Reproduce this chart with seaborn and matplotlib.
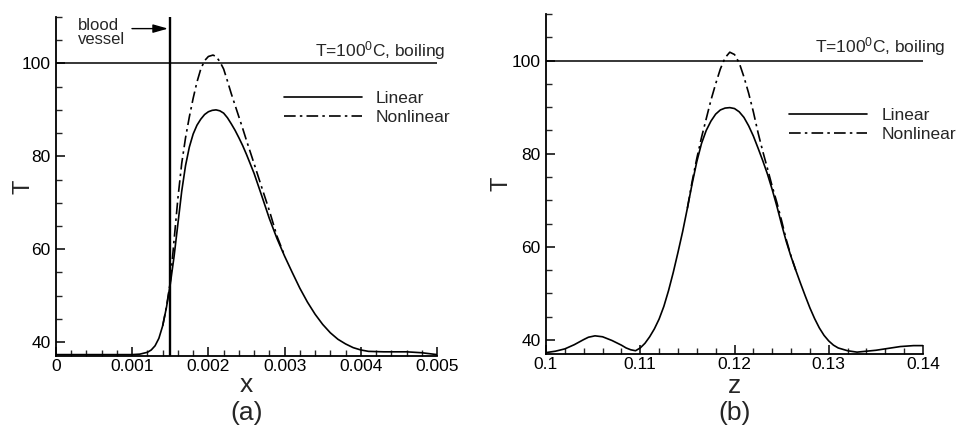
import numpy as np
import pandas as pd
import matplotlib
matplotlib.use("Agg")
import matplotlib.pyplot as plt
from matplotlib.ticker import MultipleLocator
import seaborn as sns

# (a) temperature along x
xa_lin = [0, 0.0005, 0.001, 0.0011, 0.0012, 0.00125, 0.0013, 0.00135, 0.0014, 0.00145,
          0.0015, 0.00155, 0.0016, 0.00165, 0.0017, 0.00175, 0.0018, 0.00185, 0.0019, 0.00195,
          0.002, 0.00205, 0.0021, 0.00215, 0.0022, 0.00225, 0.0023, 0.00235, 0.0024, 0.00245,
          0.0025, 0.0026, 0.0027, 0.0028, 0.0029, 0.003, 0.0031, 0.0032, 0.0033, 0.0034,
          0.0035, 0.0036, 0.0037, 0.0038, 0.0039, 0.004, 0.0041, 0.0043, 0.0046, 0.0048, 0.005]
Ta_lin = [37.3, 37.3, 37.3, 37.4, 37.8, 38.3, 39.2, 40.8, 43.5, 47.5,
          52.5, 58.5, 65.5, 72.5, 78.0, 82.0, 84.8, 86.7, 88.0, 89.0,
          89.6, 89.9, 90.0, 89.8, 89.3, 88.3, 87.0, 85.6, 84.0, 82.3,
          80.4, 76.3, 71.5, 66.6, 62.3, 58.5, 55.0, 51.6, 48.6, 46.0,
          43.8, 42.0, 40.6, 39.6, 38.8, 38.3, 38.0, 37.9, 37.9, 37.7, 37.3]

xa_non = [0.0014, 0.00145, 0.0015, 0.00155, 0.0016, 0.00165, 0.0017, 0.00175, 0.0018, 0.00185,
          0.0019, 0.00195, 0.002, 0.00206, 0.0021, 0.00215, 0.0022, 0.00225, 0.0023, 0.00235,
          0.0024, 0.00245, 0.0025, 0.0026, 0.0027, 0.0028, 0.0029, 0.003]
Ta_non = [43.5, 47.6, 53.0, 62.0, 71.0, 78.5, 84.0, 88.5, 92.5, 96.0,
          98.8, 100.6, 101.5, 101.8, 101.5, 100.4, 98.8, 96.2, 93.5, 91.0,
          88.5, 86.0, 83.4, 78.4, 73.3, 68.3, 62.8, 58.6]

# (b) temperature along z
zb_lin = [0.1, 0.101, 0.102, 0.103, 0.104, 0.1045, 0.1052, 0.106, 0.107, 0.108,
          0.1085, 0.109, 0.1095, 0.11, 0.1105, 0.111, 0.1115, 0.112, 0.1125, 0.113,
          0.1135, 0.114, 0.1145, 0.115, 0.1155, 0.116, 0.1165, 0.117, 0.1175, 0.118,
          0.1185, 0.119, 0.1195, 0.12, 0.1205, 0.121, 0.1215, 0.122, 0.1225, 0.123,
          0.1235, 0.124, 0.1245, 0.125, 0.1255, 0.126, 0.1265, 0.127, 0.1275, 0.128,
          0.1285, 0.129, 0.1295, 0.13, 0.1305, 0.131, 0.132, 0.133, 0.135, 0.1376,
          0.139, 0.14]
Tb_lin = [37.3, 37.6, 38.1, 39.0, 40.1, 40.6, 40.9, 40.7, 39.9, 38.9,
          38.3, 37.9, 37.7, 38.3, 39.3, 40.7, 42.4, 44.5, 47.2, 50.6,
          54.5, 58.8, 63.3, 68.3, 73.5, 78.3, 82.2, 85.0, 87.0, 88.5,
          89.4, 89.8, 89.9, 89.7, 89.0, 87.8, 86.0, 83.8, 81.2, 78.5,
          75.6, 72.3, 68.7, 64.8, 61.1, 57.9, 55.0, 52.2, 49.5, 46.9,
          44.6, 42.6, 41.0, 39.8, 38.9, 38.3, 37.7, 37.4, 37.8, 38.6,
          38.8, 38.8]

zb_non = [0.115, 0.1155, 0.116, 0.1165, 0.117, 0.1175, 0.118, 0.1185, 0.119, 0.1195,
          0.12, 0.1205, 0.121, 0.1215, 0.122, 0.1225, 0.123, 0.1235, 0.124, 0.1245,
          0.125, 0.1255, 0.126, 0.1265]
Tb_non = [68.3, 74.0, 79.0, 83.5, 87.5, 91.5, 95.0, 98.2, 100.6, 101.8,
          101.3, 99.5, 96.5, 93.0, 89.0, 84.5, 80.5, 76.8, 73.0, 69.5,
          65.6, 61.5, 58.0, 55.0]

xa_ticks = [0, 0.001, 0.002, 0.003, 0.004, 0.005]
xa_labels = ["0", "0.001", "0.002", "0.003", "0.004", "0.005"]
zb_ticks = [0.1, 0.11, 0.12, 0.13, 0.14]
zb_labels = ["0.1", "0.11", "0.12", "0.13", "0.14"]
T_ticks = [40, 60, 80, 100]

boiling_T = 100
vessel_x = 0.0015

sns.set_theme(style="ticks")
plt.rcParams["font.family"] = ["Liberation Sans", "DejaVu Sans"]
plt.rcParams["mathtext.default"] = "regular"
plt.rcParams["axes.linewidth"] = 1.3

DASHDOT = (0, (7, 2.5, 1.5, 2.5))

fig = plt.figure(figsize=(9.58, 4.26), dpi=100, facecolor="white")
ax1 = fig.add_axes([56 / 958, 70 / 426, 381 / 958, 339 / 426])
ax2 = fig.add_axes([546 / 958, 72 / 426, 377 / 958, 340 / 426])


def style_axis(ax, xlim, xticks, xlabels, xminor):
    ax.set_xlim(*xlim)
    ax.set_ylim(37, 110)
    ax.set_xticks(xticks, xlabels)
    ax.set_yticks(T_ticks)
    ax.xaxis.set_minor_locator(MultipleLocator(xminor))
    ax.yaxis.set_minor_locator(MultipleLocator(5))
    ax.tick_params(which="major", direction="in", length=6.5, width=1.1,
                   labelsize=12.5, colors="black")
    ax.tick_params(which="minor", direction="in", length=4.3, width=1.0)
    ax.tick_params(axis="x", which="major", pad=2.5)
    ax.tick_params(axis="y", which="major", pad=4)
    sns.despine(ax=ax)
    for s in ("left", "bottom"):
        ax.spines[s].set_color("black")


# ---- panel (a)
sns.lineplot(x=xa_lin, y=Ta_lin, ax=ax1, color="black", lw=1.2, label="Linear",
             sort=False, errorbar=None)
sns.lineplot(x=xa_non, y=Ta_non, ax=ax1, color="black", lw=1.2, label="Nonlinear",
             linestyle=DASHDOT, sort=False, errorbar=None)
ax1.axhline(boiling_T, color="black", lw=1.1)
ax1.axvline(vessel_x, color="black", lw=1.7)
style_axis(ax1, (0, 0.005), xa_ticks, xa_labels, 0.0002)

ax1.text(0.000285, 109.8, "blood\nvessel", fontsize=12, va="top", ha="left",
         linespacing=0.95)
ax1.annotate("", xy=(0.00147, 107.5), xytext=(0.000997, 107.5),
             arrowprops=dict(arrowstyle="-|>,head_length=0.6,head_width=0.17",
                             color="black", lw=1.0, mutation_scale=15,
                             shrinkA=0, shrinkB=0))
ax1.text(0.0034, 101.5, "T=100$^0$C, boiling", fontsize=12.5, ha="left", va="baseline")

ax1.set_xlabel("x", fontsize=19)
ax1.xaxis.set_label_coords(0.5, -0.106)
ax1.xaxis.label.set_va("baseline")
ax1.set_ylabel("T", fontsize=17)
ax1.yaxis.set_label_coords(-0.0853, 0.5)
ax1.yaxis.label.set_va("center")
ax1.text(0.5, -0.188, "(a)", transform=ax1.transAxes, fontsize=19,
         ha="center", va="baseline")
ax1.legend(loc="upper left", bbox_to_anchor=(0.598, 0.781), frameon=False,
           fontsize=12.5, handlelength=4.5, handletextpad=0.8, labelspacing=0.2,
           borderpad=0, borderaxespad=0)

# ---- panel (b)
sns.lineplot(x=zb_lin, y=Tb_lin, ax=ax2, color="black", lw=1.2, label="Linear",
             sort=False, errorbar=None)
sns.lineplot(x=zb_non, y=Tb_non, ax=ax2, color="black", lw=1.2, label="Nonlinear",
             linestyle=DASHDOT, sort=False, errorbar=None)
ax2.axhline(boiling_T, color="black", lw=1.1)
style_axis(ax2, (0.1, 0.14), zb_ticks, zb_labels, 0.002)

ax2.text(0.12857, 101.8, "T=100$^0$C, boiling", fontsize=12.5, ha="left",
         va="baseline", clip_on=False)

ax2.set_xlabel("z", fontsize=19)
ax2.xaxis.set_label_coords(0.5, -0.114)
ax2.xaxis.label.set_va("baseline")
ax2.set_ylabel("T", fontsize=17)
ax2.yaxis.set_label_coords(-0.119, 0.5)
ax2.yaxis.label.set_va("center")
ax2.text(0.5, -0.193, "(b)", transform=ax2.transAxes, fontsize=19,
         ha="center", va="baseline")
ax2.legend(loc="upper left", bbox_to_anchor=(0.645, 0.7235), frameon=False,
           fontsize=12.5, handlelength=4.5, handletextpad=0.8, labelspacing=0.2,
           borderpad=0, borderaxespad=0)

fig.savefig("out.png", dpi=100, facecolor="white")
